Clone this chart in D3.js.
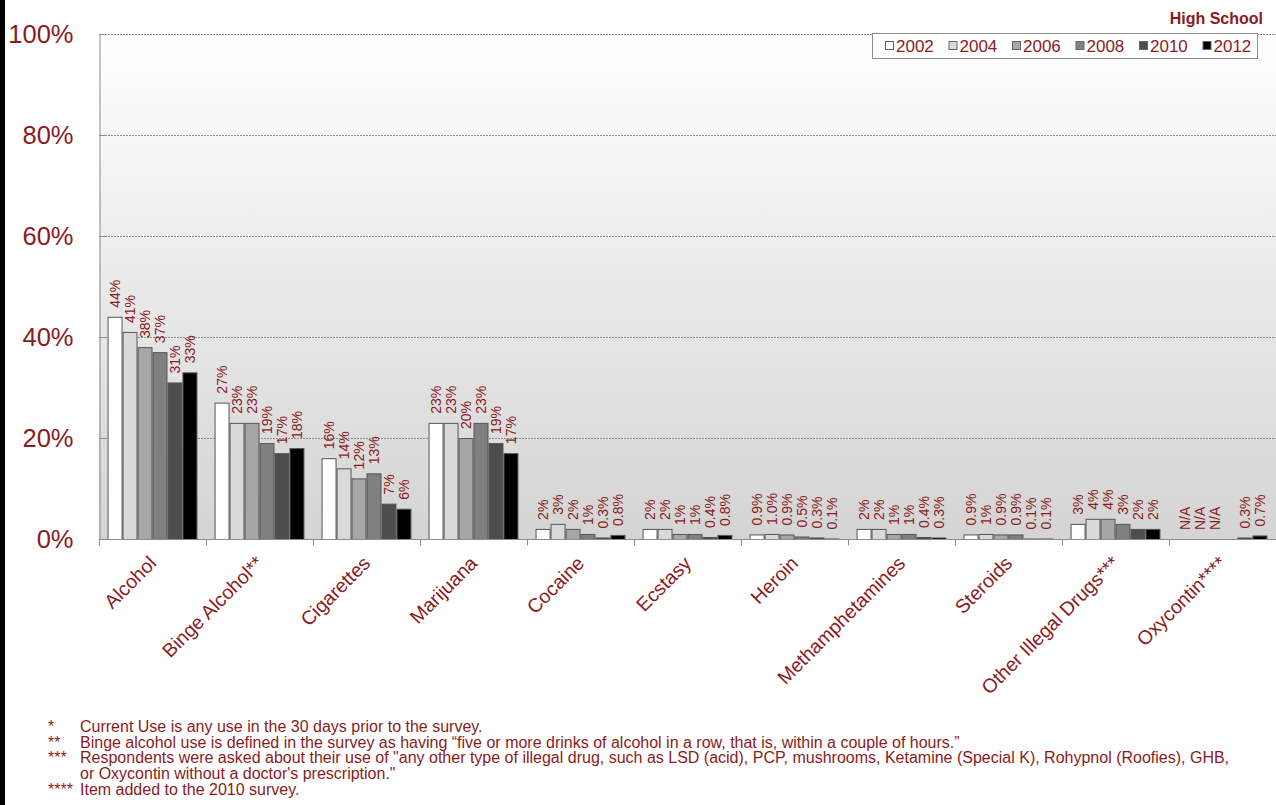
<!DOCTYPE html>
<html>
<head>
<meta charset="utf-8">
<script src="https://cdn.jsdelivr.net/npm/d3@7"></script>
<style>
  html, body { margin: 0; padding: 0; background: #fff; }
  svg { display: block; font-family: "Liberation Sans", Arial, sans-serif; }
</style>
</head>
<body>
<svg id="chart" width="1276" height="805"></svg>
<script>
// Past-30-day substance use among high school students, by survey year.
const categories = ["Alcohol", "Binge Alcohol**", "Cigarettes", "Marijuana", "Cocaine", "Ecstasy",
  "Heroin", "Methamphetamines", "Steroids", "Other Illegal Drugs***", "Oxycontin****"];
const years = ["2002", "2004", "2006", "2008", "2010", "2012"];

// Percentages as printed; "N/A" marks items not asked that year, "" marks no entry.
const y2002 = ["44", "27", "16", "23", "2", "2", "0.9", "2", "0.9", "3", "N/A"];
const y2004 = ["41", "23", "14", "23", "3", "2", "1.0", "2", "1", "4", "N/A"];
const y2006 = ["38", "23", "12", "20", "2", "1", "0.9", "1", "0.9", "4", "N/A"];
const y2008 = ["37", "19", "13", "23", "1", "1", "0.5", "1", "0.9", "3", ""];
const y2010 = ["31", "17", "7", "19", "0.3", "0.4", "0.3", "0.4", "0.1", "2", "0.3"];
const y2012 = ["33", "18", "6", "17", "0.8", "0.8", "0.1", "0.3", "0.1", "2", "0.7"];
const seriesValues = [y2002, y2004, y2006, y2008, y2010, y2012];

const yTicks = [0, 20, 40, 60, 80, 100];
const barFills = ["#ffffff", "#d9d9d9", "#a6a6a6", "#808080", "#4d4d4d", "#000000"];

const footnotes = [
  ["*", "Current Use is any use in the 30 days prior to the survey."],
  ["**", "Binge alcohol use is defined in the survey as having \u201cfive or more drinks of alcohol in a row, that is, within a couple of hours.\u201d"],
  ["***", "Respondents were asked about their use of \"any other type of illegal drug, such as LSD (acid), PCP, mushrooms, Ketamine (Special K), Rohypnol (Roofies), GHB,"],
  ["", "or Oxycontin without a doctor's prescription.\""],
  ["****", "Item added to the 2010 survey."]
];

const textColor = "#8a1b22";
const svg = d3.select("#chart");
const W = 1276, H = 805;
const plot = { left: 99, right: 1276, top: 34, bottom: 539 };

// Left frame edge
svg.append("rect").attr("x", 0).attr("y", 0).attr("width", 5).attr("height", H).attr("fill", "#000");

// Plot background gradient
const defs = svg.append("defs");
const grad = defs.append("linearGradient").attr("id", "bg").attr("x1", 0).attr("y1", 0).attr("x2", 0).attr("y2", 1);
grad.append("stop").attr("offset", "0%").attr("stop-color", "#ffffff");
grad.append("stop").attr("offset", "100%").attr("stop-color", "#d4d4d4");
svg.append("rect")
  .attr("x", plot.left).attr("y", plot.top)
  .attr("width", plot.right - plot.left).attr("height", plot.bottom - plot.top)
  .attr("fill", "url(#bg)");

const y = d3.scaleLinear().domain([0, 100]).range([plot.bottom, plot.top]);
const x0 = d3.scaleBand().domain(categories).range([plot.left, plot.right]).padding(0);
const bw = x0.bandwidth();
const x1 = d3.scaleBand().domain(years).range([bw * 0.08, bw * 0.92]).padding(0);

// Gridlines
svg.append("g").selectAll("line").data(yTicks.filter(t => t > 0)).join("line")
  .attr("x1", plot.left).attr("x2", plot.right)
  .attr("y1", d => y(d) + 0.5).attr("y2", d => y(d) + 0.5)
  .attr("stroke", "#8c8c8c").attr("stroke-width", 1).attr("stroke-dasharray", "2,1");

// Y axis
const yAxis = d3.axisLeft(y).tickValues(yTicks).tickFormat(d => d + "%").tickSize(-7).tickPadding(26);
const gy = svg.append("g").attr("transform", `translate(${plot.left + 0.5},0)`).call(yAxis);
gy.select(".domain").attr("stroke", "#8c8c8c");
gy.selectAll(".tick line").attr("stroke", "#8c8c8c");
gy.selectAll(".tick text").attr("fill", textColor).attr("font-size", 25.5)
  .attr("font-family", "'Liberation Sans', Arial, sans-serif");

// Bars
const cells = [];
categories.forEach((c, i) => {
  years.forEach((yr, j) => {
    const s = seriesValues[j][i];
    cells.push({ cat: c, year: yr, idx: j, raw: s, v: parseFloat(s) });
  });
});

const gBars = svg.append("g");
gBars.selectAll("rect").data(cells.filter(d => !isNaN(d.v))).join("rect")
  .attr("x", d => x0(d.cat) + x1(d.year) + 0.5)
  .attr("width", x1.bandwidth() - 1)
  .attr("y", d => y(d.v) + 0.5)
  .attr("height", d => Math.max(0, y(0) - y(d.v)))
  .attr("fill", d => barFills[d.idx])
  .attr("stroke", "#555")
  .attr("stroke-width", 1);

// Value labels, rotated, above each bar
gBars.selectAll("text").data(cells.filter(d => d.raw !== "")).join("text")
  .attr("transform", d => {
    const cx = x0(d.cat) + x1(d.year) + x1.bandwidth() / 2 + 5;
    const top = isNaN(d.v) ? y(0) : y(d.v);
    return `translate(${cx},${top - 9}) rotate(-90)`;
  })
  .attr("fill", textColor)
  .attr("font-size", 14)
  .text(d => isNaN(d.v) ? d.raw : d.raw + "%");

// X axis
const gx = svg.append("g").attr("transform", `translate(0,${plot.bottom + 0.5})`);
gx.append("line").attr("x1", plot.left).attr("x2", plot.right).attr("stroke", "#8c8c8c");
gx.selectAll("line.tk").data(d3.range(categories.length + 1)).join("line").attr("class", "tk")
  .attr("x1", i => plot.left + i * bw + 0.5).attr("x2", i => plot.left + i * bw + 0.5)
  .attr("y1", 0).attr("y2", 6).attr("stroke", "#8c8c8c");
gx.selectAll("text").data(categories).join("text")
  .attr("transform", d => `translate(${x0(d) + bw / 2 + 5},${25}) rotate(-45)`)
  .attr("text-anchor", "end")
  .attr("fill", textColor)
  .attr("font-size", 19.5)
  .text(d => d);

// Title
svg.append("text").attr("x", 1263).attr("y", 24).attr("text-anchor", "end")
  .attr("font-weight", "bold").attr("font-size", 16).attr("fill", textColor).text("High School");

// Legend
const lg = svg.append("g");
lg.append("rect").attr("x", 872.5).attr("y", 33.5).attr("width", 385).attr("height", 25)
  .attr("fill", "#fff").attr("stroke", "#8c8c8c");
const items = lg.selectAll("g").data(years).join("g")
  .attr("transform", (d, i) => `translate(${885 + i * 63.5},0)`);
items.append("rect").attr("x", 0.5).attr("y", 41.5).attr("width", 8).attr("height", 8)
  .attr("fill", (d, i) => barFills[i]).attr("stroke", "#666");
items.append("text").attr("x", 11).attr("y", 52).attr("font-size", 17).attr("fill", textColor).text(d => d);

// Footnotes
const fn = svg.append("g").attr("fill", textColor).attr("font-size", 16);
fn.selectAll("text.mk").data(footnotes).join("text").attr("class", "mk")
  .attr("x", 48).attr("y", (d, i) => 732 + i * 15.7).text(d => d[0]);
fn.selectAll("text.tx").data(footnotes).join("text").attr("class", "tx")
  .attr("x", 80).attr("y", (d, i) => 732 + i * 15.7).text(d => d[1]);
</script>
</body>
</html>
